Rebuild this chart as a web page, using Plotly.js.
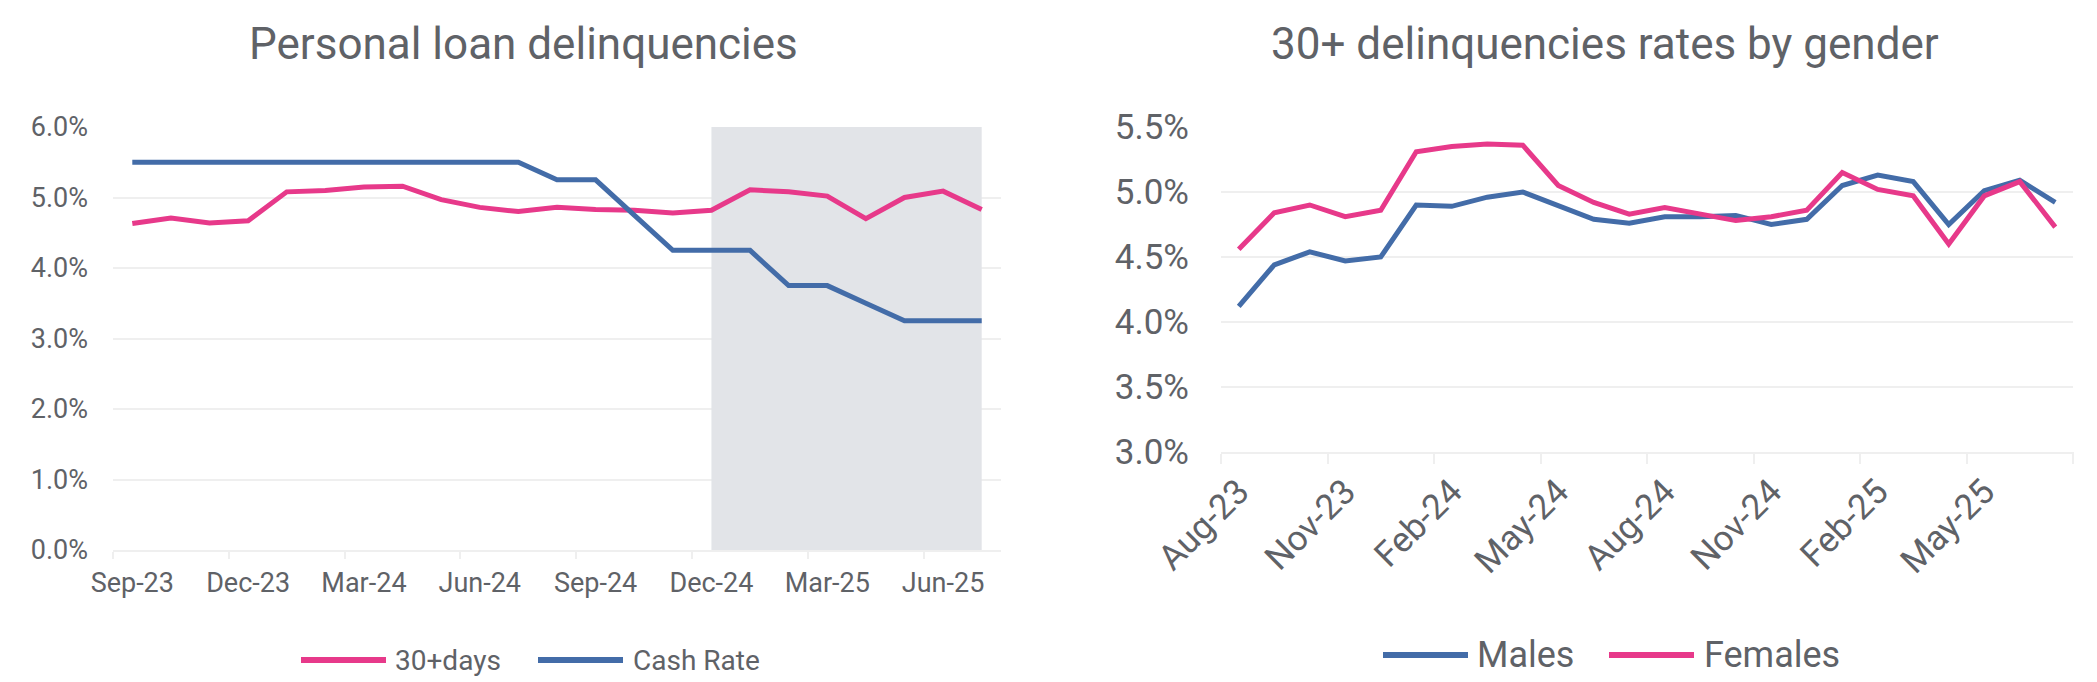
<!DOCTYPE html>
<html>
<head>
<meta charset="utf-8">
<script src="https://cdn.plot.ly/plotly-3.0.1.min.js"></script>
<style>
html,body{margin:0;padding:0;background:#fff;}
#chart{width:2097px;height:682px;}
</style>
</head>
<body>
<div id="chart"></div>
<script>
// ---- Left chart data ----
const leftMonths = ["Sep-23","Oct-23","Nov-23","Dec-23","Jan-24","Feb-24","Mar-24","Apr-24","May-24","Jun-24","Jul-24","Aug-24","Sep-24","Oct-24","Nov-24","Dec-24","Jan-25","Feb-25","Mar-25","Apr-25","May-25","Jun-25","Jul-25"];
const days30 = [4.63,4.71,4.64,4.67,5.08,5.10,5.15,5.16,4.97,4.86,4.80,4.86,4.83,4.82,4.78,4.82,5.11,5.08,5.02,4.70,5.00,5.09,4.83];
const cashRate = [5.50,5.50,5.50,5.50,5.50,5.50,5.50,5.50,5.50,5.50,5.50,5.25,5.25,4.75,4.25,4.25,4.25,3.75,3.75,3.50,3.25,3.25,3.25];
const shadeStart = "Dec-24";
const shadeEnd = "Jul-25";

// ---- Right chart data ----
const rightMonths = ["Aug-23","Sep-23","Oct-23","Nov-23","Dec-23","Jan-24","Feb-24","Mar-24","Apr-24","May-24","Jun-24","Jul-24","Aug-24","Sep-24","Oct-24","Nov-24","Dec-24","Jan-25","Feb-25","Mar-25","Apr-25","May-25","Jun-25","Jul-25"];
const males = [4.12,4.44,4.54,4.47,4.50,4.90,4.89,4.96,5.00,4.89,4.79,4.76,4.81,4.81,4.82,4.75,4.79,5.05,5.13,5.08,4.75,5.01,5.09,4.92];
const females = [4.56,4.84,4.90,4.81,4.86,5.31,5.35,5.37,5.36,5.05,4.92,4.83,4.88,4.83,4.78,4.81,4.86,5.15,5.02,4.97,4.60,4.97,5.08,4.73];

const PINK = '#E7398A';
const BLUE = '#436CA8';
const TXT = '#5F6267';
const GRID = '#EFEFEF';
const FONT = 'Roboto, "Open Sans", sans-serif';
const W = 2097, H = 682;
const px = v => v / W;
const py = v => 1 - v / H;

const traces = [
  {x: leftMonths, y: days30, type:'scatter', mode:'lines', name:'30+days', line:{color:PINK, width:5}, xaxis:'x', yaxis:'y', showlegend:false},
  {x: leftMonths, y: cashRate, type:'scatter', mode:'lines', name:'Cash Rate', line:{color:BLUE, width:5}, xaxis:'x', yaxis:'y', showlegend:false},
  {x: rightMonths, y: males, type:'scatter', mode:'lines', name:'Males', line:{color:BLUE, width:5}, xaxis:'x2', yaxis:'y2', showlegend:false},
  {x: rightMonths, y: females, type:'scatter', mode:'lines', name:'Females', line:{color:PINK, width:5}, xaxis:'x2', yaxis:'y2', showlegend:false}
];

const legendItems = [
  {name:'30+days', color:PINK, x0:301, x1:386, tx:393, y:660, size:28},
  {name:'Cash Rate', color:BLUE, x0:538, x1:623, tx:631, y:660, size:28},
  {name:'Males', color:BLUE, x0:1383, x1:1468, tx:1475, y:655, size:36},
  {name:'Females', color:PINK, x0:1609, x1:1694, tx:1702, y:655, size:36}
];

const shapes = [
  {type:'rect', xref:'x', yref:'y', x0:shadeStart, x1:shadeEnd, y0:0, y1:6, fillcolor:'#E2E4E8', line:{width:0}, layer:'between'},
  {type:'line', xref:'x2 domain', yref:'y2 domain', x0:1, x1:1, y0:0, y1:-10/325, line:{color:GRID, width:2}}
];
legendItems.forEach(it => shapes.push({type:'line', xref:'paper', yref:'paper', x0:px(it.x0), x1:px(it.x1), y0:py(it.y), y1:py(it.y), line:{color:it.color, width:6}}));

const annotations = [
  {text:'Personal loan delinquencies', xref:'paper', yref:'paper', x:px(523), y:py(44), xanchor:'center', yanchor:'middle', showarrow:false, font:{family:FONT, size:44, color:TXT}},
  {text:'30+ delinquencies rates by gender', xref:'paper', yref:'paper', x:px(1605), y:py(44), xanchor:'center', yanchor:'middle', showarrow:false, font:{family:FONT, size:44, color:TXT}}
];
legendItems.forEach(it => annotations.push({text:it.name, xref:'paper', yref:'paper', x:px(it.tx), y:py(it.y), xanchor:'left', yanchor:'middle', showarrow:false, font:{family:FONT, size:it.size, color:TXT}}));

const layout = {
  width: W, height: H,
  margin:{l:0, r:0, t:0, b:0},
  paper_bgcolor:'#fff', plot_bgcolor:'#fff',
  font:{family:FONT, color:TXT},
  showlegend:false,
  xaxis:{
    domain:[px(113), px(1001)], anchor:'y', type:'category', range:[-0.5, 22.5],
    tickmode:'linear', tick0:0, dtick:3, tickson:'boundaries',
    ticks:'outside', ticklen:7, tickwidth:2, tickcolor:GRID, ticklabelstandoff:8,
    showline:true, linecolor:GRID, linewidth:2, showgrid:false, zeroline:false,
    tickfont:{family:FONT, size:27, color:TXT}, tickangle:0
  },
  yaxis:{
    domain:[py(550), py(127)], anchor:'x', range:[0, 6], tickmode:'linear', tick0:0, dtick:1,
    tickformat:'.1f', ticksuffix:'%', showgrid:true, gridcolor:GRID, gridwidth:2, zeroline:false,
    showline:false, ticks:'', ticklabelstandoff:24,
    tickfont:{family:FONT, size:27, color:TXT}
  },
  xaxis2:{
    domain:[px(1221), px(2073)], anchor:'y2', type:'category', range:[-0.5, 23.5],
    tickmode:'linear', tick0:0, dtick:3, tickson:'boundaries',
    ticks:'outside', ticklen:10, tickwidth:2, tickcolor:GRID, ticklabelstandoff:3,
    showline:true, linecolor:GRID, linewidth:2, showgrid:false, zeroline:false,
    tickfont:{family:FONT, size:35, color:TXT}, tickangle:-45
  },
  yaxis2:{
    domain:[py(452), py(127)], anchor:'x2', range:[3, 5.5], tickmode:'linear', tick0:3, dtick:0.5,
    tickformat:'.1f', ticksuffix:'%', showgrid:true, gridcolor:GRID, gridwidth:2, zeroline:false,
    showline:false, ticks:'', ticklabelstandoff:31,
    tickfont:{family:FONT, size:35, color:TXT}
  },
  shapes: shapes,
  annotations: annotations
};

Plotly.newPlot('chart', traces, layout, {staticPlot:true, displayModeBar:false});
</script>
</body>
</html>
